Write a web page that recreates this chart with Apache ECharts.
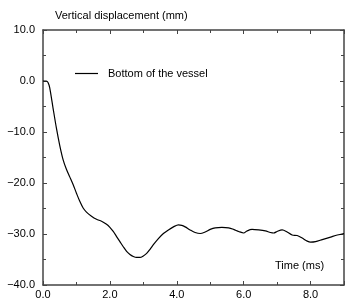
<!DOCTYPE html>
<html><head><meta charset="utf-8">
<script src="https://cdn.jsdelivr.net/npm/echarts@6/dist/echarts.min.js"></script>
<style>html,body{margin:0;padding:0;background:#fff}#c{width:346px;height:300px}</style>
</head><body><div id="c"></div>
<script>
const timeMs = [0, 0.1, 0.15, 0.2, 0.3, 0.4, 0.5, 0.6, 0.7, 0.8, 0.9, 1.0, 1.1, 1.2, 1.3, 1.45, 1.6, 1.75, 1.9, 2.0, 2.1, 2.2, 2.3, 2.4, 2.5, 2.6, 2.7, 2.8, 2.9, 3.0, 3.1, 3.2, 3.3, 3.45, 3.6, 3.75, 3.9, 4.05, 4.15, 4.25, 4.4, 4.55, 4.7, 4.85, 5.0, 5.15, 5.35, 5.55, 5.7, 5.85, 6.0, 6.1, 6.25, 6.45, 6.65, 6.8, 6.9, 7.0, 7.15, 7.3, 7.45, 7.6, 7.75, 7.9, 8.0, 8.15, 8.35, 8.6, 8.8, 9.0];
const displacement = [0, 0, -0.3, -1.3, -5.3, -9.2, -12.6, -15.4, -17.3, -18.8, -20.3, -22.0, -23.6, -24.9, -25.7, -26.5, -27.1, -27.5, -28.1, -28.7, -29.5, -30.5, -31.5, -32.5, -33.4, -34.0, -34.4, -34.6, -34.6, -34.3, -33.8, -33.0, -32.1, -30.9, -29.9, -29.2, -28.6, -28.2, -28.3, -28.6, -29.2, -29.7, -29.9, -29.6, -29.1, -28.8, -28.7, -28.8, -29.1, -29.5, -29.8, -29.4, -29.1, -29.2, -29.4, -29.7, -29.8, -29.5, -29.2, -29.6, -30.2, -30.3, -30.8, -31.4, -31.6, -31.5, -31.1, -30.6, -30.2, -29.9];
const seriesName = 'Bottom of the vessel';
const yTitle = 'Vertical displacement (mm)';
const xTitle = 'Time (ms)';

const fmt = v => (v < 0 ? '\u2212' : '') + Math.abs(v).toFixed(1);
const font = 'Liberation Sans, Arial, sans-serif';
const axisColor = '#444';
const chart = echarts.init(document.getElementById('c'), null, {renderer: 'canvas'});
const baseX = {type: 'value', min: 0, max: 9, interval: 2, splitLine: {show: false},
  axisLine: {onZero: false, lineStyle: {color: axisColor, width: 1.5}},
  axisTick: {inside: true, length: 4, lineStyle: {color: axisColor}},
  minorTick: {show: true, splitNumber: 2, length: 3, lineStyle: {color: axisColor}}};
const baseY = {type: 'value', min: -40, max: 10, interval: 10, splitLine: {show: false},
  axisLine: {onZero: false, lineStyle: {color: axisColor, width: 1.5}},
  axisTick: {inside: true, length: 4, lineStyle: {color: axisColor}},
  minorTick: {show: true, splitNumber: 2, length: 3, lineStyle: {color: axisColor}}};
chart.setOption({
  animation: false,
  grid: {left: 43, top: 30, right: 2, bottom: 15},
  title: {text: yTitle, left: 50, top: 5, textStyle: {fontFamily: font, fontSize: 11, fontWeight: 'normal', color: '#000'}},
  legend: {data: [seriesName], left: 70, top: 63, icon: 'rect', itemWidth: 23, itemHeight: 1.2,
    itemStyle: {color: '#000'},
    textStyle: {fontFamily: font, fontSize: 11, color: '#000', padding: [0, 0, 0, 5]}},
  graphic: [{type: 'text', left: 275, top: 260, style: {text: xTitle, font: '11px ' + font, fill: '#000'}}],
  xAxis: [
    Object.assign({}, baseX, {position: 'bottom', axisLabel: {formatter: fmt, showMaxLabel: false, fontFamily: font, fontSize: 11, color: '#000', margin: 4}}),
    Object.assign({}, baseX, {position: 'top', axisLabel: {show: false}})
  ],
  yAxis: [
    Object.assign({}, baseY, {position: 'left', axisLabel: {formatter: fmt, fontFamily: font, fontSize: 11, color: '#000', margin: 8}}),
    Object.assign({}, baseY, {position: 'right', axisLabel: {show: false}})
  ],
  series: [{name: seriesName, type: 'line', symbol: 'none', smooth: 0.3,
    lineStyle: {color: '#000', width: 1.2}, itemStyle: {color: '#000'},
    data: timeMs.map((t, i) => [t, displacement[i]])}]
});
</script></body></html>
